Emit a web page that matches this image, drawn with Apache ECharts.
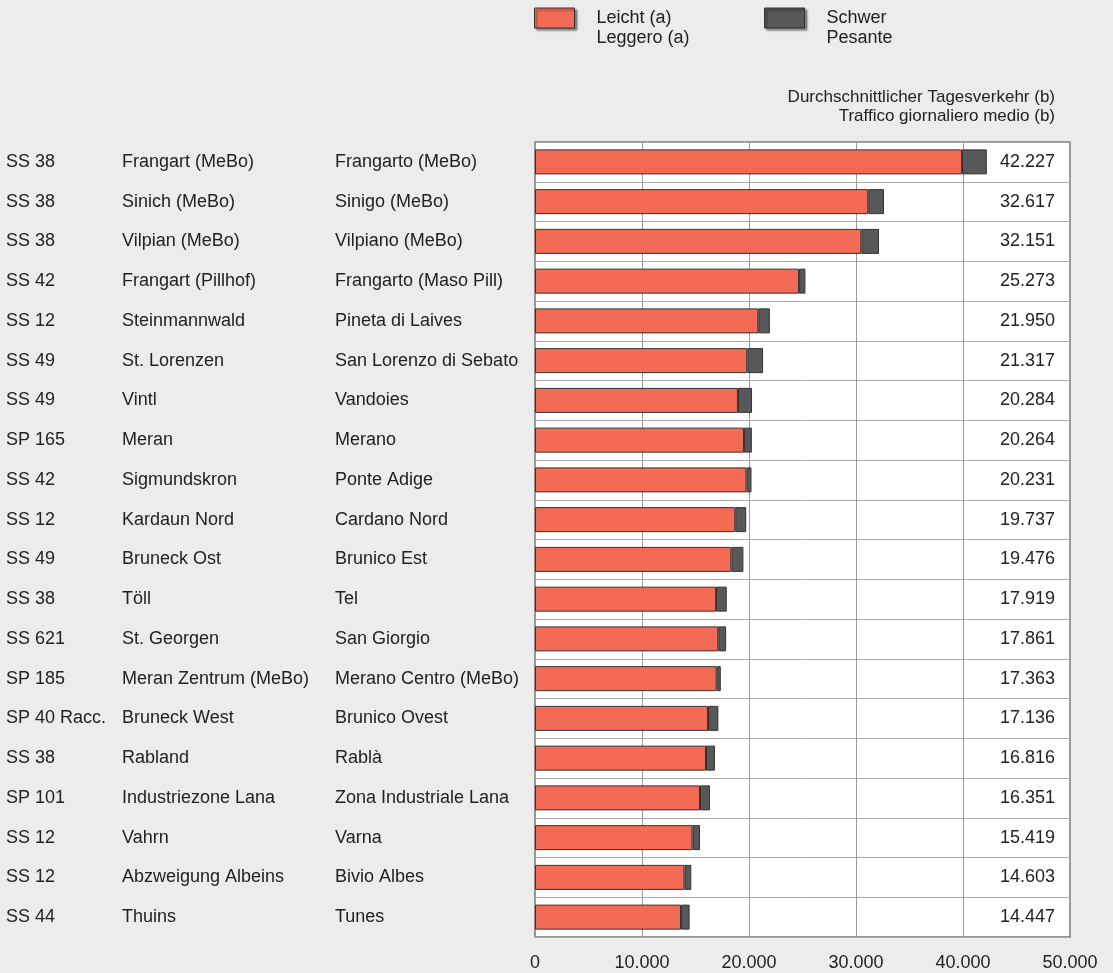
<!DOCTYPE html>
<html>
<head>
<meta charset="utf-8">
<script src="https://cdn.jsdelivr.net/npm/echarts@6/dist/echarts.min.js"></script>
<style>
html,body{margin:0;padding:0;background:#ececec;}
#chart{width:1113px;height:973px;}
</style>
</head>
<body>
<div id="chart"></div>
<script>
const roads = ['SS 38','SS 38','SS 38','SS 42','SS 12','SS 49','SS 49','SP 165','SS 42','SS 12','SS 49','SS 38','SS 621','SP 185','SP 40 Racc.','SS 38','SP 101','SS 12','SS 12','SS 44'];
const namesDe = ['Frangart (MeBo)','Sinich (MeBo)','Vilpian (MeBo)','Frangart (Pillhof)','Steinmannwald','St. Lorenzen','Vintl','Meran','Sigmundskron','Kardaun Nord','Bruneck Ost','Töll','St. Georgen','Meran Zentrum (MeBo)','Bruneck West','Rabland','Industriezone Lana','Vahrn','Abzweigung Albeins','Thuins'];
const namesIt = ['Frangarto (MeBo)','Sinigo (MeBo)','Vilpiano (MeBo)','Frangarto (Maso Pill)','Pineta di Laives','San Lorenzo di Sebato','Vandoies','Merano','Ponte Adige','Cardano Nord','Brunico Est','Tel','San Giorgio','Merano Centro (MeBo)','Brunico Ovest','Rablà','Zona Industriale Lana','Varna','Bivio Albes','Tunes'];
const light = [39910,31150,30500,24680,20870,19840,18970,19530,19760,18720,18350,16920,17130,16980,16170,15980,15420,14720,13970,13650];
const heavy = [2317,1467,1651,593,1080,1477,1314,734,471,1017,1126,999,731,383,966,836,931,699,633,797];
const totalLabels = ['42.227','32.617','32.151','25.273','21.950','21.317','20.284','20.264','20.231','19.737','19.476','17.919','17.861','17.363','17.136','16.816','16.351','15.419','14.603','14.447'];
const xTicks = [0,10000,20000,30000,40000,50000];

const FONT = 'Liberation Sans, Arial, sans-serif';
const FS = 18;
const fmt = v => String(v).replace(/\B(?=(\d{3})+(?!\d))/g, '.');

const chart = echarts.init(document.getElementById('chart'));
const legendCommon = {
  top: -12, padding: 0, itemWidth: 40, itemHeight: 20, selectedMode: false, icon: 'rect',
  formatter: name => '\n' + name,
  itemStyle: {borderColor: '#333', borderWidth: 1, shadowColor: 'rgba(0,0,0,0.45)', shadowBlur: 2, shadowOffsetX: 2, shadowOffsetY: 2},
  textStyle: {fontFamily: FONT, fontSize: FS, color: '#222', lineHeight: 20, padding: [0,0,0,17]}
};
chart.setOption({
  backgroundColor: '#ececec',
  animation: false,
  title: {
    text: 'Durchschnittlicher Tagesverkehr (b)\nTraffico giornaliero medio (b)',
    left: 1055, top: 88, padding: 0, textAlign: 'right',
    textStyle: {fontFamily: FONT, fontSize: 17, fontWeight: 'normal', color: '#222', lineHeight: 19}
  },
  legend: [
    Object.assign({}, legendCommon, {left: 534, data: ['Leicht (a)\nLeggero (a)']}),
    Object.assign({}, legendCommon, {left: 764, data: ['Schwer\nPesante']})
  ],
  grid: {left: 535, right: 43, top: 142, bottom: 36, show: true, backgroundColor: '#fff', borderColor: '#777', borderWidth: 1.5},
  xAxis: {
    type: 'value', min: xTicks[0], max: xTicks[xTicks.length-1], interval: 10000,
    axisLine: {show: false}, axisTick: {show: false},
    splitLine: {show: true, lineStyle: {color: '#999', width: 1}},
    axisLabel: {fontFamily: FONT, fontSize: FS, color: '#222', margin: 17, formatter: v => fmt(v)}
  },
  yAxis: [
    {
      type: 'category', inverse: true, data: namesDe,
      axisLine: {show: false}, axisTick: {show: false},
      splitLine: {show: true, lineStyle: {color: '#aaa', width: 1}},
      axisLabel: {
        align: 'left', margin: 529,
        formatter: (v, i) => '{a|' + roads[i] + '}{b|' + namesDe[i] + '}{c|' + namesIt[i] + '}',
        rich: {
          a: {width: 116, fontFamily: FONT, fontSize: FS, color: '#222'},
          b: {width: 213, fontFamily: FONT, fontSize: FS, color: '#222'},
          c: {fontFamily: FONT, fontSize: FS, color: '#222'}
        }
      }
    },
    {
      type: 'category', inverse: true, position: 'right', data: totalLabels,
      axisLine: {show: false}, axisTick: {show: false}, splitLine: {show: false},
      axisLabel: {inside: true, margin: 15, fontFamily: FONT, fontSize: FS, color: '#222'}
    }
  ],
  series: [
    {
      name: 'Leicht (a)\nLeggero (a)', type: 'bar', stack: 't', data: light, barWidth: 25,
      itemStyle: {color: '#f36b55', borderColor: '#333', borderWidth: 1}
    },
    {
      name: 'Schwer\nPesante', type: 'bar', stack: 't', data: heavy, barWidth: 25,
      itemStyle: {color: '#57585a', borderColor: '#333', borderWidth: 1}
    }
  ]
});
</script>
</body>
</html>
